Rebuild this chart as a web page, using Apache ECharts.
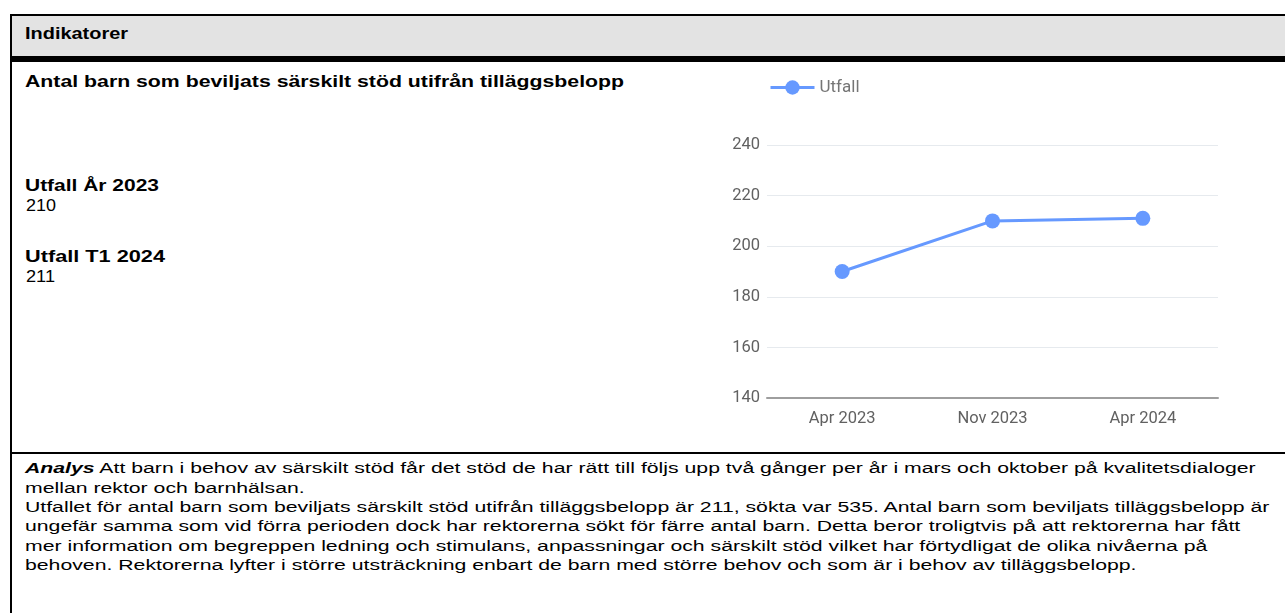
<!DOCTYPE html>
<html>
<head>
<meta charset="utf-8">
<script src="https://cdn.jsdelivr.net/npm/echarts@6/dist/echarts.min.js"></script>
<style>
  html, body { margin: 0; padding: 0; background: #fff; }
  body { width: 1285px; height: 613px; position: relative; overflow: hidden; font-family: "Liberation Sans", Arial, sans-serif; color: #000; }
  .abs { position: absolute; }
  .t { position: absolute; white-space: nowrap; transform-origin: 0 0; }
  .b { font-weight: bold; }
</style>
</head>
<body>
<div class="abs" style="left:10px;top:14px;width:1275px;height:2px;background:#000"></div>
<div class="abs" style="left:10px;top:16px;width:1275px;height:40px;background:#e3e3e3"></div>
<div class="abs" style="left:10px;top:56px;width:1275px;height:6px;background:#000"></div>
<div class="abs" style="left:10px;top:14px;width:2px;height:599px;background:#000"></div>
<div class="abs" style="left:10px;top:452px;width:1275px;height:2px;background:#000"></div>

<div id="texts"></div>
<div id="chart" class="abs" style="left:700px;top:62px;width:585px;height:390px"></div>

<script>
// ---- data ----
const headerText = "Indikatorer";
const chartTitle = "Antal barn som beviljats särskilt stöd utifrån tilläggsbelopp";
const kpiLabels = ["Utfall År 2023", "Utfall T1 2024"];
const kpiValues = ["210", "211"];
const seriesName = "Utfall";
const categories = ["Apr 2023", "Nov 2023", "Apr 2024"];
const values = [190, 210, 211];
const yTicks = [140, 160, 180, 200, 220, 240];
const analysisLead = "Analys";
const analysisLines = [
  " Att barn i behov av särskilt stöd får det stöd de har rätt till följs upp två gånger per år i mars och oktober på kvalitetsdialoger",
  "mellan rektor och barnhälsan.",
  "Utfallet för antal barn som beviljats särskilt stöd utifrån tilläggsbelopp är 211, sökta var 535. Antal barn som beviljats tilläggsbelopp är",
  "ungefär samma som vid förra perioden dock har rektorerna sökt för färre antal barn. Detta beror troligtvis på att rektorerna har fått",
  "mer information om begreppen ledning och stimulans, anpassningar och särskilt stöd vilket har förtydligat de olika nivåerna på",
  "behoven. Rektorerna lyfter i större utsträckning enbart de barn med större behov och som är i behov av tilläggsbelopp."
];

// ---- text layout ----
const host = document.getElementById('texts');
function addText(html, left, centerY, fs, targetW, cls) {
  const d = document.createElement('div');
  d.className = 't ' + (cls || '');
  d.style.left = left + 'px';
  d.style.top = (centerY - fs / 2) + 'px';
  d.style.fontSize = fs + 'px';
  d.style.lineHeight = fs + 'px';
  d.innerHTML = html;
  host.appendChild(d);
  if (targetW) {
    const w = d.getBoundingClientRect().width;
    d.style.transform = 'scaleX(' + (targetW / w) + ')';
  }
  return d;
}
addText(headerText, 25, 33.5, 17, 103, 'b');
addText(chartTitle, 25, 81, 17, 599, 'b');
addText(kpiLabels[0], 25, 185.5, 16.5, 134, 'b');
addText(kpiValues[0], 26, 205.5, 16.5, 30, '');
addText(kpiLabels[1], 25, 256.5, 16.5, 140, 'b');
addText(kpiValues[1], 26, 276.5, 16.5, 29, '');

// analysis block with common horizontal scale
const aFs = 15.5, aTop = 468, aStep = 19.4;
const aEls = analysisLines.map((ln, i) => {
  const html = (i === 0 ? '<b><i>' + analysisLead + '</i></b>' : '') + ln;
  return addText(html, 25, aTop + i * aStep, aFs, 0, '');
});
const w1 = aEls[0].getBoundingClientRect().width;
const w3 = aEls[2].getBoundingClientRect().width;
const s = ((1263 - 25) / w1 + (1262 - 25) / w3) / 2;
aEls.forEach(e => e.style.transform = 'scaleX(' + s + ')');

// ---- chart ----
const chart = echarts.init(document.getElementById('chart'), null, { renderer: 'canvas' });
chart.setOption({
  animation: false,
  textStyle: { fontFamily: 'Roboto' },
  legend: {
    data: [seriesName],
    left: 64, top: 12,
    itemWidth: 44, itemHeight: 18, itemGap: 8,
    lineStyle: { width: 3 },
    textStyle: { color: '#757575', fontSize: 17, fontFamily: 'Roboto' }
  },
  grid: { left: 67, right: 67, top: 83, bottom: 54 },
  xAxis: {
    type: 'category',
    data: categories,
    boundaryGap: true,
    axisLine: { show: true, lineStyle: { color: '#9e9e9e', width: 2 } },
    axisTick: { show: false },
    axisLabel: { color: '#616161', fontSize: 16.5, margin: 12, fontFamily: 'Roboto' }
  },
  yAxis: {
    type: 'value',
    min: yTicks[0], max: yTicks[yTicks.length - 1], interval: 20,
    axisLine: { show: false },
    axisTick: { show: false },
    axisLabel: { color: '#616161', fontSize: 16.5, margin: 7, fontFamily: 'Roboto' },
    splitLine: { lineStyle: { color: '#e6eaee', width: 1 } }
  },
  series: [{
    name: seriesName,
    type: 'line',
    data: values,
    symbol: 'circle',
    symbolSize: 15,
    lineStyle: { color: '#6699ff', width: 3 },
    itemStyle: { color: '#6699ff' }
  }]
});
</script>
</body>
</html>
